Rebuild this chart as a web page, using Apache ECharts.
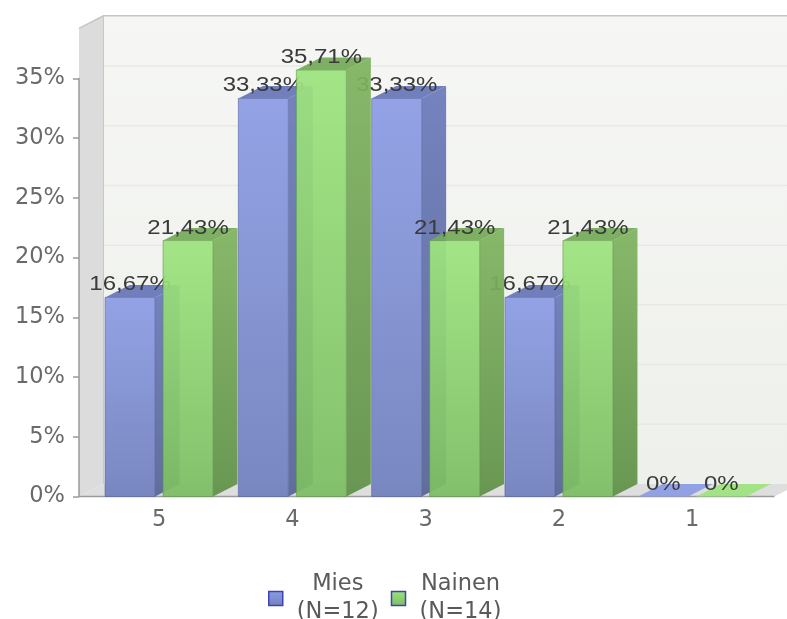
<!DOCTYPE html>
<html>
<head>
<meta charset="utf-8">
<style>html,body{margin:0;padding:0;background:#fff}#chart{width:787px;height:619px}</style>
<script src="https://cdn.jsdelivr.net/npm/echarts@6/dist/echarts.min.js"></script>
</head>
<body>
<div id="chart"></div>
<script>
// Answer shares per grade, split by respondent group
const categories = ['5', '4', '3', '2', '1'];
const seriesNames = ['Mies\n(N=12)', 'Nainen\n(N=14)'];
const miesValues = [16.67, 33.33, 33.33, 16.67, 0];
const nainenValues = [21.43, 35.71, 21.43, 21.43, 0];

// Pseudo-3D box projection
const DEPTH_X = 24.5, DEPTH_Y = -12.5, BAR_W = 50, BAR_GAP = 4;
const WALL_LEFT = 13.4, WALL_RIGHT = 15.5, WALL_TOP_VALUE = 39.2;

const palettes = [
  { front: ['#8c9ce4', '#7080bd'], side: ['#6b7abb', '#566596'], top: '#6675b8', edge: 'rgba(80,92,160,0.6)' },
  { front: ['#9de47e', '#7cbd62'], side: ['#7fb35f', '#5f9148'], top: '#74aa58', edge: 'rgba(92,145,70,0.6)' }
];
const vertical = (a, b) => ({ type: 'linear', x: 0, y: 0, x2: 0, y2: 1,
  colorStops: [{ offset: 0, color: a }, { offset: 1, color: b }] });
const poly = (points, fill, extra) => ({ type: 'polygon', shape: { points },
  style: Object.assign({ fill }, extra || {}) });
const formatValue = v => String(v).replace('.', ',') + '%';

// One box per data item: front, side and top faces plus the value above it
function boxRenderer(seriesIndex) {
  return function (params, api) {
    const value = api.value(1);
    const top = api.coord([api.value(0), value]);
    const base = api.coord([api.value(0), 0]);
    const x0 = seriesIndex === 0 ? top[0] - BAR_GAP - BAR_W : top[0] + BAR_GAP;
    const x1 = x0 + BAR_W;
    const p = palettes[seriesIndex];
    const face = { opacity: 0.93 };
    const children = [];
    if (value > 0) {
      children.push(poly([[x1, top[1]], [x1 + DEPTH_X, top[1] + DEPTH_Y],
        [x1 + DEPTH_X, base[1] + DEPTH_Y], [x1, base[1]]], vertical(p.side[0], p.side[1]), face));
      children.push(poly([[x0, top[1]], [x1, top[1]], [x1, base[1]], [x0, base[1]]],
        vertical(p.front[0], p.front[1]), Object.assign({ stroke: p.edge, lineWidth: 1 }, face)));
    }
    children.push(poly([[x0, top[1]], [x0 + DEPTH_X, top[1] + DEPTH_Y],
      [x1 + DEPTH_X, top[1] + DEPTH_Y], [x1, top[1]]], value > 0 ? p.top : p.front[0], face));
    children.push({
      type: 'text', x: x0 + BAR_W / 2, y: top[1] - 12.5, scaleX: 1.2,
      style: { text: formatValue(value), fill: '#3a3a3a', align: 'center', verticalAlign: 'middle',
        font: '20px "Liberation Sans"' }
    });
    return { type: 'group', children };
  };
}

// Back wall, side wall and floor behind the boxes
function roomRenderer(params, api) {
  const size = api.size([1, 0])[0];
  const first = api.coord([0, 0]);
  const last = api.coord([categories.length - 1, 0]);
  const left = first[0] - size / 2 - WALL_LEFT;
  const right = last[0] + size / 2 + WALL_RIGHT;
  const y0 = first[1];
  const yTop = api.coord([0, WALL_TOP_VALUE])[1];
  const grid = [];
  [5, 10, 15, 20, 25, 30, 35].forEach(v => {
    const y = api.coord([0, v])[1] + DEPTH_Y;
    grid.push({ type: 'line', shape: { x1: left + DEPTH_X, y1: y, x2: right + DEPTH_X, y2: y },
      style: { stroke: '#e7eae4', lineWidth: 1.5 } });
  });
  return {
    type: 'group',
    children: [
      poly([[left + DEPTH_X, yTop + DEPTH_Y], [right + DEPTH_X, yTop + DEPTH_Y],
        [right + DEPTH_X, y0 + DEPTH_Y], [left + DEPTH_X, y0 + DEPTH_Y]],
        vertical('#f6f7f5', '#eef0eb')),
      ...grid,
      poly([[left, yTop], [left + DEPTH_X, yTop + DEPTH_Y], [left + DEPTH_X, y0 + DEPTH_Y], [left, y0]],
        '#dcdcdc'),
      poly([[left, y0], [left + DEPTH_X, y0 + DEPTH_Y], [right + DEPTH_X, y0 + DEPTH_Y], [right, y0]],
        '#dedede'),
      { type: 'polyline', shape: { points: [[left, yTop], [left + DEPTH_X, yTop + DEPTH_Y],
        [right + DEPTH_X, yTop + DEPTH_Y]] }, style: { fill: null, stroke: '#c4c4c4', lineWidth: 1.5 } },
      { type: 'line', shape: { x1: left + DEPTH_X, y1: yTop + DEPTH_Y, x2: left + DEPTH_X, y2: y0 + DEPTH_Y },
        style: { stroke: '#c8c8c8', lineWidth: 1 } },
      { type: 'line', shape: { x1: left, y1: y0, x2: right, y2: y0 },
        style: { stroke: '#9a9a9a', lineWidth: 1.5 } }
    ]
  };
}

const chart = echarts.init(document.getElementById('chart'), null, { renderer: 'canvas' });
const axisFont = { fontFamily: 'DejaVu Sans', fontSize: 22.5, color: '#6a6a6a' };
const toItems = values => values.map((v, i) => [i, v]);

chart.setOption({
  animation: false,
  backgroundColor: '#fff',
  grid: { left: 92.4, width: 666.5, top: 78.5, bottom: 122.5 },
  xAxis: {
    type: 'category', data: categories, z: 3,
    axisLine: { show: false }, axisTick: { show: false },
    axisLabel: Object.assign({ margin: 12 }, axisFont)
  },
  yAxis: {
    type: 'value', min: 0, max: 35, interval: 5, offset: 13.4, z: 3,
    splitLine: { show: false },
    axisLine: { show: true, lineStyle: { color: '#9a9a9a', width: 1.5 } },
    axisTick: { show: true, length: 6, lineStyle: { color: '#9a9a9a', width: 1.5 } },
    axisLabel: Object.assign({ margin: 14, padding: [4, 0, 0, 0], formatter: '{value}%' }, axisFont)
  },
  legend: {
    left: 263, top: 568, itemWidth: 14, itemHeight: 14, itemGap: 3, icon: 'rect',
    selectedMode: false,
    data: [
      { name: seriesNames[0], itemStyle: { color: vertical('#8c9ce4', '#7080bd'), borderColor: '#3c44b4', borderWidth: 1.5 } },
      { name: seriesNames[1], itemStyle: { color: vertical('#9de47e', '#7cbd62'), borderColor: '#3c44b4', borderWidth: 1.5 } }
    ],
    formatter: name => name.split('\n').map(s => '{t|' + s + '}').join('\n'),
    textStyle: { rich: { t: { width: 100, align: 'center', lineHeight: 28,
      fontFamily: 'DejaVu Sans', fontSize: 22.5, color: '#5a5a5a' } } }
  },
  series: [
    { type: 'custom', name: 'room', silent: true, data: [[0, 0]], encode: { x: 0, y: 1 }, renderItem: roomRenderer, z: 1 },
    { type: 'custom', name: seriesNames[0], silent: true, data: toItems(miesValues), encode: { x: 0, y: 1 }, renderItem: boxRenderer(0), z: 2 },
    { type: 'custom', name: seriesNames[1], silent: true, data: toItems(nainenValues), encode: { x: 0, y: 1 }, renderItem: boxRenderer(1), z: 2 }
  ]
});
</script>
</body>
</html>
